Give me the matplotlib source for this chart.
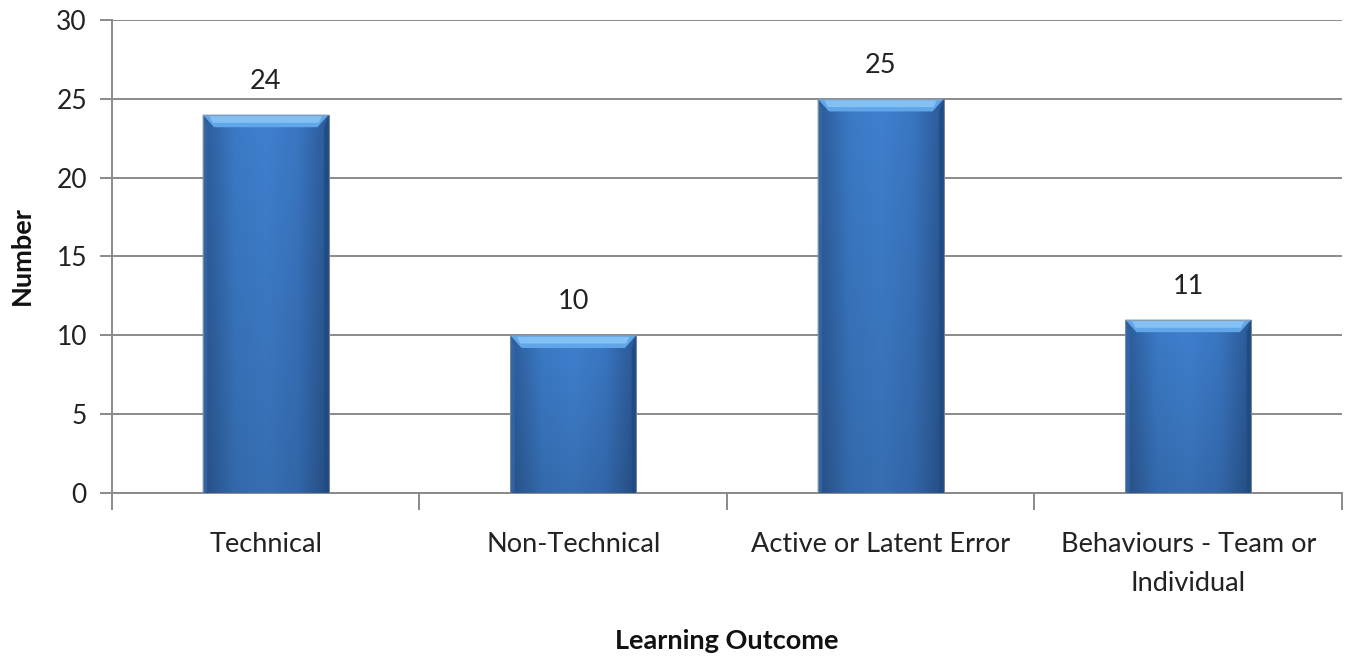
import numpy as np
import matplotlib
matplotlib.use("Agg")
import matplotlib.pyplot as plt
from matplotlib.colors import LinearSegmentedColormap
from matplotlib.patches import Polygon, Rectangle

categories = ["Technical", "Non-Technical", "Active or Latent Error",
              "Behaviours - Team or\nIndividual"]
values = [24, 10, 25, 11]
y_ticks = [0, 5, 10, 15, 20, 25, 30]

plt.rcParams['font.family'] = ['Lato', 'DejaVu Sans']

W, H = 1346, 656
fig = plt.figure(figsize=(W / 100, H / 100), dpi=100)
ax = fig.add_axes([0.0832, 0.2485, 0.9138, 0.7210])

x = np.arange(len(categories))
bar_w = 0.41
bars = ax.bar(x, values, width=bar_w, color="#3b78c4", edgecolor="none", zorder=3)

ax.set_xlim(-0.5, len(categories) - 0.5)
ax.set_ylim(0, 30)
ax.set_yticks(y_ticks)
ax.yaxis.grid(True, color="#8a8a8a", linewidth=1.4, zorder=0)
ax.set_axisbelow(True)

for s in ["top", "right"]:
    ax.spines[s].set_visible(False)
for s in ["left", "bottom"]:
    ax.spines[s].set_color("#8a8a8a")
    ax.spines[s].set_linewidth(1.4)

# category separators as x ticks
ax.set_xticks(np.arange(-0.5, len(categories) + 0.5, 1.0))
ax.set_xticklabels([])
ax.tick_params(axis="x", length=12, width=1.4, color="#8a8a8a", direction="out")
ax.tick_params(axis="y", length=9, width=1.4, color="#8a8a8a", direction="out",
               labelsize=19, pad=9, labelcolor="#222222")

for xi, lab in zip(x, categories):
    ax.text(xi, -2.45, lab, ha="center", va="top", fontsize=19.5,
            color="#222222", linespacing=1.72)

fig.text(0.0832 + 0.9138 / 2, 1 - 641 / H, "Learning Outcome", ha="center",
         va="center", fontsize=19.5, fontweight="bold", color="#111111")
fig.text(22 / W, 1 - 256 / H, "Number", ha="center", va="center", rotation=90,
         fontsize=19.5, fontweight="bold", color="#111111")

# bevelled shading on each bar
face = LinearSegmentedColormap.from_list(
    "face", ["#2c5b98", "#3b7ac6", "#3f80cf", "#3a76c2", "#2a5894"])
grad_h = np.linspace(0, 1, 256)
grad_v = np.linspace(0, 1, 128)
for b, v in zip(bars, values):
    x0, w = b.get_x(), b.get_width()
    ext = (x0, x0 + w, 0, v)
    rgba = np.repeat(face(grad_h)[None, :, :], 128, axis=0)
    # darker toward the bottom
    shade = 0.86 + 0.14 * grad_v
    rgba[..., :3] = rgba[..., :3] * shade[:, None, None]
    im = ax.imshow(rgba, extent=ext, aspect="auto", origin="lower", zorder=3,
                   interpolation="bilinear")
    im.set_clip_path(b)
    # top bevel
    bev_x = w * 0.09
    bev_y = 0.8
    ax.add_patch(Polygon([[x0, v], [x0 + w, v], [x0 + w - bev_x, v - bev_y],
                          [x0 + bev_x, v - bev_y]], closed=True,
                         facecolor="#62a6ea", edgecolor="none", zorder=4))
    ax.add_patch(Polygon([[x0 + bev_x * 0.6, v - bev_y * 0.12],
                          [x0 + w - bev_x * 0.6, v - bev_y * 0.12],
                          [x0 + w - bev_x * 0.9, v - bev_y * 0.65],
                          [x0 + bev_x * 0.9, v - bev_y * 0.65]], closed=True,
                         facecolor="#8ac6f8", edgecolor="none", zorder=4, alpha=0.85))
    # side bevels
    ax.add_patch(Polygon([[x0, v], [x0 + bev_x * 0.4, v - bev_y], [x0 + bev_x * 0.4, 0.05],
                          [x0, 0]], closed=True, facecolor="#3468ab", edgecolor="none",
                         zorder=4, alpha=0.8))
    ax.add_patch(Polygon([[x0 + w, v], [x0 + w - bev_x * 0.4, v - bev_y],
                          [x0 + w - bev_x * 0.4, 0.05], [x0 + w, 0]], closed=True,
                         facecolor="#1f4a82", edgecolor="none", zorder=4, alpha=0.85))
    ax.add_patch(Rectangle((x0, 0), w, v, fill=False, edgecolor="#9a9a9a",
                           linewidth=0.8, zorder=5, alpha=0.7))
    ax.annotate(f"{v}", (x0 + w / 2, v), xytext=(0, 15), textcoords="offset points",
                ha="center", va="bottom", fontsize=19.5, color="#222222")

fig.savefig("out.png", dpi=100)
